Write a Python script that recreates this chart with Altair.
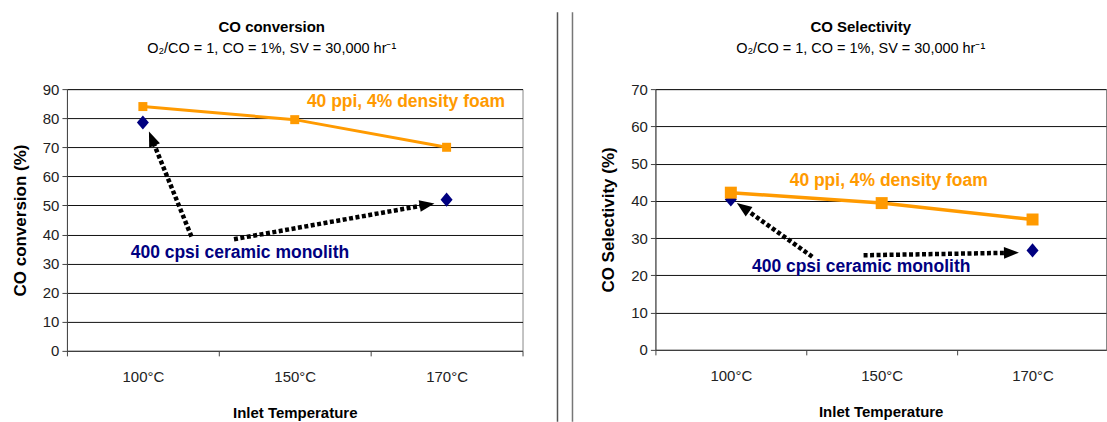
import json
import math

import altair as alt
import pandas as pd

# ---- data -------------------------------------------------------------
temps = ["100°C", "150°C", "170°C"]
foam_name = "40 ppi, 4% density foam"
mono_name = "400 cpsi ceramic monolith"

# CO conversion (%)
conv_foam = [84, 79.5, 70]
conv_mono_at = [0, 2]          # monolith measured at 100°C and 170°C only
conv_mono = [78.5, 52]

# CO selectivity (%)
sel_foam = [42.2, 39.4, 35]
sel_mono_at = [0, 2]
sel_mono = [40.4, 26.7]

# callout arrows: tail (x, y) -> head (x, y), x in category units
conv_arrows = [(0.32, 39.3, 0.04, 75.4), (0.60, 38.4, 1.92, 50.7)]
sel_arrows = [(0.54, 25.0, 0.04, 39.4), (0.88, 25.4, 1.91, 26.1)]

# series labels: x, y, text
conv_labels = [(1.08, 85.6, foam_name), (-0.08, 33.7, mono_name)]
sel_labels = [(0.39, 45.3, foam_name), (0.14, 22.3, mono_name)]

ORANGE = "#FF9A00"
NAVY = "#000080"
FONT = "Liberation Sans"
SUBTITLE = "O₂/CO = 1, CO = 1%, SV = 30,000 hr⁻¹"

HEAD_PATH = "M0,-1L0.62,0.6L-0.62,0.6Z"
DIAMOND_PATH = "M0,-1L0.85,0L0,1L-0.85,0Z"


def arrow_tables(arrows, ppx, ppy, head=15.0):
    """Split each arrow into a dotted shaft and a rotated triangular head."""
    r = head / 1.6
    shafts, heads = [], []
    for x0, y0, x1, y1 in arrows:
        dx = (x1 - x0) * ppx
        dy = -(y1 - y0) * ppy
        length = math.hypot(dx, dy)
        ux, uy = dx / length, dy / length
        ox = x1 - r * ux / ppx
        oy = y1 + r * uy / ppy
        ang = math.degrees(math.atan2(ux, -uy)) % 360
        shafts.append({"x": x0, "y": y0, "x2": ox, "y2": oy})
        heads.append({"x": ox, "y": oy, "angle": ang})
    return pd.DataFrame(shafts), pd.DataFrame(heads), (2 * r) ** 2


def panel(title, ytitle, foam, mono_at, mono, ymax, width, height, xmax,
          arrows, labels, title_dx, sq_size, line_w):
    x_scale = alt.Scale(domain=[-0.5, xmax], nice=False, zero=False)
    y_scale = alt.Scale(domain=[0, ymax], nice=False)
    tick_vals = [v / 2 for v in range(-1, 6) if v / 2 <= xmax]
    x_axis = alt.Axis(
        values=tick_vals,
        labelExpr="datum.value % 1 === 0 ? "
        + json.dumps(temps, ensure_ascii=False)
        + "[datum.value] : ''",
        tickOpacity={"condition": {"test": "datum.value % 1 !== 0", "value": 1}, "value": 0},
        grid=False,
        title="Inlet Temperature",
        labelPadding=14,
        titlePadding=21,
    )
    y_axis = alt.Axis(
        values=list(range(0, ymax + 1, 10)),
        grid=True,
        title=ytitle,
        titleFontSize=17,
        titlePadding=13,
        labelPadding=3,
        labelOverlap=False,
    )
    # every layer carries the same scales and axes so nothing gets merged away
    X = alt.X("x:Q", scale=x_scale, axis=x_axis)
    Y = alt.Y("y:Q", scale=y_scale, axis=y_axis)

    foam_df = pd.DataFrame({"x": list(range(len(temps))), "y": foam})
    mono_df = pd.DataFrame({"x": mono_at, "y": mono})
    ppx = width / (xmax + 0.5)
    ppy = height / ymax
    shafts, heads, head_size = arrow_tables(arrows, ppx, ppy)
    lab_df = pd.DataFrame(
        [{"x": x, "y": y, "t": t, "c": ORANGE if t == foam_name else NAVY} for x, y, t in labels]
    )

    mono_pts = alt.Chart(mono_df).mark_point(
        shape=DIAMOND_PATH, filled=True, size=200, color=NAVY, opacity=1
    ).encode(x=X, y=Y)
    foam_line = alt.Chart(foam_df).mark_line(color=ORANGE, strokeWidth=line_w).encode(x=X, y=Y)
    foam_pts = alt.Chart(foam_df).mark_point(
        shape="square", filled=True, size=sq_size, color=ORANGE, opacity=1
    ).encode(x=X, y=Y)
    shaft = alt.Chart(shafts).mark_rule(
        color="black", strokeWidth=4.5, strokeDash=[4, 2.5], strokeCap="butt"
    ).encode(x=X, y=Y, x2="x2:Q", y2="y2:Q")
    head = alt.Chart(heads).mark_point(
        shape=HEAD_PATH, filled=True, size=head_size, color="black", opacity=1
    ).encode(x=X, y=Y, angle=alt.Angle("angle:Q", scale=None))
    text = alt.Chart(lab_df).mark_text(
        align="left", baseline="middle", font=FONT, fontSize=17.5, fontWeight="bold"
    ).encode(x=X, y=Y, text="t:N", color=alt.Color("c:N", scale=None))

    return alt.layer(mono_pts, foam_line, foam_pts, shaft, head, text).properties(
        width=width,
        height=height,
        title=alt.TitleParams(
            text=title,
            subtitle=SUBTITLE,
            frame="group",
            anchor="middle",
            dx=title_dx,
            offset=27,
            font=FONT,
            fontSize=15,
            fontWeight="bold",
            color="black",
            subtitleFont=FONT,
            subtitleFontSize=14.5,
            subtitleColor="black",
            subtitlePadding=7,
        ),
    )


left = panel("CO conversion", "CO conversion (%)", conv_foam, conv_mono_at, conv_mono,
             90, 456, 262, 2.5, conv_arrows, conv_labels, -23, 81, 3)
right = panel("CO Selectivity", "CO Selectivity (%)", sel_foam, sel_mono_at, sel_mono,
              70, 451, 261, 2.487, sel_arrows, sel_labels, -20, 144, 3.5)

# twin vertical separator between the two panels
sep_df = pd.DataFrame({"k": [0]})
sep_a = alt.Chart(sep_df).mark_rule(color="#555555", strokeWidth=1.5).encode(
    x=alt.value(35), y=alt.value(-77), y2=alt.value(333))
sep_b = alt.Chart(sep_df).mark_rule(color="#777777", strokeWidth=1.5).encode(
    x=alt.value(50), y=alt.value(-77), y2=alt.value(333))
separator = alt.layer(sep_a, sep_b).properties(
    width=133, height=261, view=alt.ViewBackground(strokeWidth=0)
)

chart = (
    alt.hconcat(left, separator, right, spacing=0, bounds="flush")
    .properties(padding={"left": 10, "top": 11, "right": 0, "bottom": 0})
    .configure_view(stroke="#888888", strokeWidth=1)
    .configure_axis(
        labelFont=FONT,
        labelFontSize=15,
        labelColor="#222222",
        titleFont=FONT,
        titleFontSize=15,
        titleFontWeight="bold",
        titleColor="black",
        domainColor="#444444",
        tickColor="#444444",
        tickSize=5,
        gridColor="#111111",
        gridWidth=1,
    )
)

chart.save("out.html", embed_options={"renderer": "svg", "actions": False})
